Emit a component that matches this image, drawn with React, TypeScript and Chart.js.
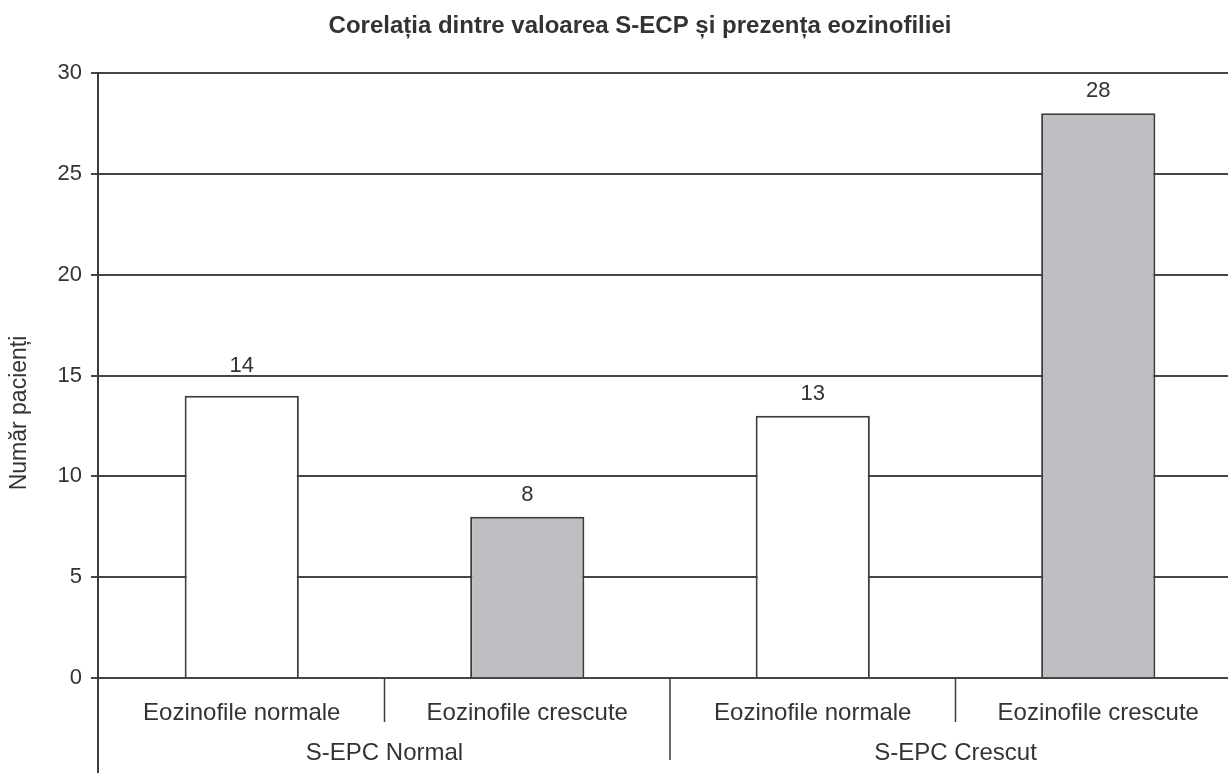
import React, { useEffect, useRef } from 'react';
import { Chart, registerables } from 'chart.js';

Chart.register(...registerables);

const categories = ['Eozinofile normale', 'Eozinofile crescute', 'Eozinofile normale', 'Eozinofile crescute'];
const groups = ['S-EPC Normal', 'S-EPC Crescut'];
const values = [14, 8, 13, 28];
const barColors = ['#ffffff', '#bfbfc3', '#ffffff', '#bfbfc3'];
const yMin = 0;
const yMax = 30;
const yStep = 5;
const chartTitle = 'Corelația dintre valoarea S-ECP și prezența eozinofiliei';
const yTitle = 'Număr pacienți';

const FONT = "'Liberation Sans', Arial, Helvetica, sans-serif";
const TEXT = '#333333';
const LINE = '#3c3c3c';
const CANVAS_W = 1245;
const CANVAS_H = 773;

const overlay = {
  id: 'overlay',
  afterDraw(chart: any) {
    const { ctx, chartArea, scales } = chart;
    const x = scales.x;
    const y = scales.y;
    ctx.save();
    // title
    ctx.fillStyle = TEXT;
    ctx.font = `bold 24px ${FONT}`;
    ctx.textAlign = 'center';
    ctx.textBaseline = 'alphabetic';
    ctx.fillText(chartTitle, 640, 33);

    // y axis title
    ctx.save();
    ctx.translate(20, 413);
    ctx.rotate(-Math.PI / 2);
    ctx.font = `23px ${FONT}`;
    ctx.textBaseline = 'middle';
    ctx.fillText(yTitle, 0, 0);
    ctx.restore();

    // data labels (nudged above a grid line if they would overlap it)
    const meta = chart.getDatasetMeta(0);
    ctx.font = `22px ${FONT}`;
    ctx.textBaseline = 'alphabetic';
    const gridPx: number[] = [];
    for (let v = yMin; v <= yMax; v += yStep) gridPx.push(y.getPixelForValue(v));
    meta.data.forEach((bar: any, i: number) => {
      let base = bar.y - 16;
      for (const g of gridPx) {
        if (g > base - 18 && g < base + 4) base = g - 4;
      }
      ctx.fillText(String(values[i]), bar.x, base);
    });

    // axis line (extends below the plot)
    ctx.strokeStyle = LINE;
    ctx.lineWidth = 2;
    ctx.beginPath();
    ctx.moveTo(chartArea.left - 1, chartArea.top - 1);
    ctx.lineTo(chartArea.left - 1, CANVAS_H);
    ctx.stroke();

    // separators
    ctx.lineWidth = 1.5;
    for (let i = 0; i < categories.length - 1; i++) {
      const px = (x.getPixelForValue(i) + x.getPixelForValue(i + 1)) / 2;
      const isGroup = i === 1;
      ctx.beginPath();
      ctx.moveTo(px, chartArea.bottom);
      ctx.lineTo(px, chartArea.bottom + (isGroup ? 82 : 44));
      ctx.stroke();
    }

    // group labels
    ctx.font = `24px ${FONT}`;
    ctx.textAlign = 'center';
    ctx.textBaseline = 'alphabetic';
    groups.forEach((g, gi) => {
      const cx = (x.getPixelForValue(gi * 2) + x.getPixelForValue(gi * 2 + 1)) / 2;
      ctx.fillText(g, cx, 760);
    });
    ctx.restore();
  },
};

export default function App() {
  const canvasRef = useRef<HTMLCanvasElement | null>(null);

  useEffect(() => {
    if (!canvasRef.current) return;
    const chart = new Chart(canvasRef.current, {
      type: 'bar',
      data: {
        labels: categories,
        datasets: [
          {
            data: values,
            backgroundColor: barColors,
            borderColor: LINE,
            borderWidth: 2,
            barPercentage: 0.4,
            categoryPercentage: 1,
          },
        ],
      },
      options: {
        responsive: false,
        animation: false,
        layout: { padding: { top: 73, right: 4, left: 0, bottom: 0 } },
        plugins: {
          legend: { display: false },
          title: { display: false },
          tooltip: { enabled: false },
        },
        scales: {
          x: {
            grid: { display: false, drawTicks: false },
            border: { display: false },
            ticks: {
              color: TEXT,
              font: { family: FONT, size: 24 },
              padding: 21,
              maxRotation: 0,
              autoSkip: false,
            },
            afterFit: (scale: any) => {
              scale.height = 95;
            },
          },
          y: {
            min: yMin,
            max: yMax,
            ticks: {
              stepSize: yStep,
              color: TEXT,
              font: { family: FONT, size: 22 },
              padding: 9,
            },
            grid: {
              color: '#454545',
              lineWidth: 2,
              tickLength: 8,
              drawTicks: true,
            },
            border: { display: false },
            afterFit: (scale: any) => {
              scale.width = 99;
            },
          },
        },
      },
      plugins: [overlay],
    });
    return () => chart.destroy();
  }, []);

  return (
    <div
      style={{
        position: 'absolute',
        left: 0,
        top: 0,
        width: 1228,
        height: 773,
        overflow: 'hidden',
        background: '#ffffff',
      }}
    >
      <canvas
        ref={canvasRef}
        width={CANVAS_W}
        height={CANVAS_H}
        style={{ display: 'block', width: CANVAS_W, height: CANVAS_H }}
      />
    </div>
  );
}
